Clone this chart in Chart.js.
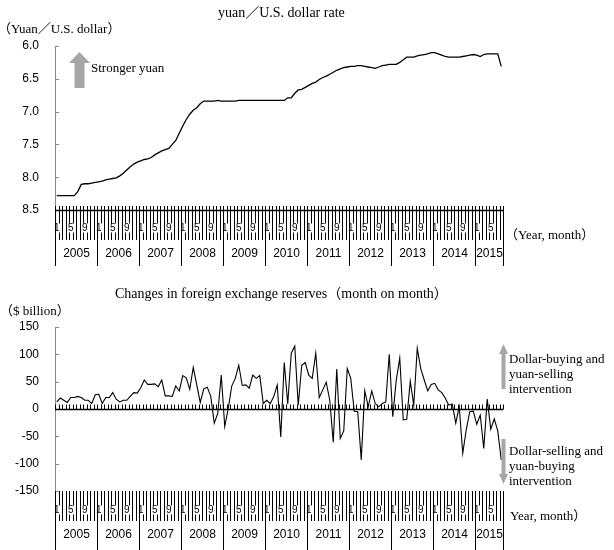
<!DOCTYPE html>
<html>
<head>
<meta charset="utf-8">
<script src="https://cdn.jsdelivr.net/npm/chart.js@4.4.1/dist/chart.umd.min.js"></script>
<style>
  html, body { margin: 0; padding: 0; background: #fff; }
  #wrap { position: relative; width: 614px; height: 550px; overflow: hidden; }
  .box { position: absolute; left: 0; width: 614px; }
  .txt { position: absolute; font-family: "Liberation Serif", "Noto Sans CJK JP", serif; font-size: 13px; color: #000; white-space: nowrap; line-height: 15px; }
</style>
</head>
<body>
<div id="wrap">
  <div class="box" style="top:0;height:270px"><canvas id="rateChart"></canvas></div>
  <div class="box" style="top:270px;height:280px"><canvas id="reserveChart"></canvas></div>

  <div class="txt" style="left:218px;top:5px;font-size:14px">yuan／U.S. dollar rate</div>
  <div class="txt" style="left:-2px;top:21px">（Yuan／U.S. dollar）</div>
  <div class="txt" style="left:91px;top:60px">Stronger yuan</div>
  <div class="txt" style="left:505px;top:227px">（Year, month）</div>

  <div class="txt" style="left:115px;top:286px;font-size:14px">Changes in foreign exchange reserves（month on month）</div>
  <div class="txt" style="left:0px;top:303px">（$ billion）</div>
  <div class="txt" style="left:509px;top:351px">Dollar-buying and<br>yuan-selling<br>intervention</div>
  <div class="txt" style="left:509px;top:443px">Dollar-selling and<br>yuan-buying<br>intervention</div>
  <div class="txt" style="left:510px;top:508px">Year, month）</div>
</div>

<script>
// Anos e meses do eixo x (jan/2005 a ago/2015)
const years = ['2005', '2006', '2007', '2008', '2009', '2010', '2011', '2012', '2013', '2014', '2015'];
const lastMonth = 8;
const shownMonths = ['1', '5', '9'];

// Taxa yuan / dólar (média mensal)
const rateValues = [
  8.28, 8.28, 8.28, 8.28, 8.28, 8.28, 8.22, 8.11, 8.10, 8.10, 8.09, 8.08,
  8.07, 8.06, 8.04, 8.03, 8.02, 8.01, 7.98, 7.94, 7.89, 7.84, 7.80, 7.77,
  7.75, 7.73, 7.72, 7.70, 7.66, 7.63, 7.60, 7.58, 7.56, 7.50, 7.44, 7.33,
  7.22, 7.12, 7.04, 6.98, 6.94, 6.88, 6.84, 6.84, 6.84, 6.84, 6.83, 6.84,
  6.84, 6.84, 6.84, 6.84, 6.83, 6.83, 6.83, 6.83, 6.83, 6.83, 6.83, 6.83,
  6.83, 6.83, 6.83, 6.83, 6.83, 6.83, 6.79, 6.79, 6.72, 6.67, 6.66, 6.63,
  6.60, 6.57, 6.55, 6.51, 6.48, 6.46, 6.43, 6.40, 6.37, 6.35, 6.33, 6.32,
  6.31, 6.31, 6.30, 6.30, 6.31, 6.32, 6.33, 6.34, 6.32, 6.30, 6.29, 6.28,
  6.28, 6.28, 6.25, 6.21, 6.17, 6.17, 6.17, 6.15, 6.14, 6.13, 6.12, 6.10,
  6.10, 6.12, 6.14, 6.16, 6.17, 6.17, 6.17, 6.17, 6.16, 6.15, 6.14, 6.13,
  6.14, 6.16, 6.13, 6.12, 6.12, 6.12, 6.12, 6.31
];

// Variação mensal das reservas (US$ bilhões)
const reserveChanges = [
  13, 20, 16, 12, 21, 21, 23, 21, 16, 16, 10, 26,
  27, 10, 21, 21, 30, 18, 13, 16, 16, 23, 30, 29,
  39, 53, 45, 45, 46, 41, 53, 24, 24, 23, 42, 33,
  61, 57, 36, 76, 44, 12, 37, 40, 23, -26, -8, 62,
  -32, 1, 42, 56, 80, 43, 44, 38, 62, 56, 61, 10,
  16, 10, 23, 44, -51, 85, 9, 102, 115, 7, 80, 85,
  62, 56, 102, 21, 35, 49, 16, -61, 73, -54, -40, 74,
  56, -4, -5, -93, 33, 4, 33, 10, 4, 10, 13, 100,
  -14, 53, 93, -20, -19, 51, 7, 111, 74, 53, 33, 45,
  47, 35, 30, 20, 7, 9, -26, 4, -81, -38, -5, -4,
  -28, -11, -72, 18, -37, -18, -40, -93
];

// Categorias: "ano/mês"
const categories = [];
years.forEach((y, i) => {
  const n = i === years.length - 1 ? lastMonth : 12;
  for (let m = 1; m <= n; m++) categories.push(y + '/' + m);
});

// Plugin: marcas mensais, caixas dos anos, linha base e setas
const axisDecor = {
  id: 'axisDecor',
  afterDraw(chart, args, o) {
    const ctx = chart.ctx;
    const xs = chart.scales.x, ys = chart.scales.y;
    const area = chart.chartArea;
    const half = (xs.getPixelForValue(1) - xs.getPixelForValue(0)) / 2;
    const n = categories.length;
    const edge = i => i < n ? xs.getPixelForValue(i) - half : xs.getPixelForValue(n - 1) + half;
    ctx.save();

    // marcas internas do eixo y
    ctx.strokeStyle = '#888';
    ctx.lineWidth = 1;
    ys.ticks.forEach(t => {
      const py = Math.round(ys.getPixelForValue(t.value)) + 0.5;
      ctx.beginPath();
      ctx.moveTo(area.left, py);
      ctx.lineTo(area.left + 4, py);
      ctx.stroke();
    });

    // linha base
    const by = Math.round(ys.getPixelForValue(o.baseValue)) + 0.5;
    ctx.strokeStyle = '#000';
    ctx.lineWidth = 1.3;
    ctx.beginPath();
    ctx.moveTo(area.left, by);
    ctx.lineTo(edge(n), by);
    ctx.stroke();
    if (o.baseTicks) {
      ctx.lineWidth = 1;
      for (let i = 0; i <= n; i++) {
        const px = Math.round(edge(i)) + 0.5;
        ctx.beginPath();
        ctx.moveTo(px, by - 5);
        ctx.lineTo(px, by);
        ctx.stroke();
      }
    }

    // marcas mensais
    ctx.lineWidth = 1;
    for (let i = 0; i <= n; i++) {
      const px = Math.round(edge(i)) + 0.5;
      ctx.beginPath();
      ctx.moveTo(px, o.tickTop);
      ctx.lineTo(px, o.tickBottom);
      ctx.stroke();
    }

    // rótulos dos meses (com fundo branco, como no original)
    ctx.font = '10px "Liberation Sans", Arial, sans-serif';
    ctx.textAlign = 'center';
    ctx.textBaseline = 'middle';
    categories.forEach((c, i) => {
      const m = c.split('/')[1];
      if (!shownMonths.includes(m)) return;
      const px = xs.getPixelForValue(i);
      const w = ctx.measureText(m).width + 1;
      ctx.fillStyle = '#fff';
      ctx.fillRect(px - w / 2, o.monthY - 4.5, w, 9);
      ctx.fillStyle = '#000';
      ctx.fillText(m, px, o.monthY);
    });

    // caixas dos anos
    ctx.font = '12px "Liberation Sans", Arial, sans-serif';
    let start = 0;
    for (let i = 1; i <= n; i++) {
      if (i === n || categories[i].endsWith('/1')) {
        const x0 = Math.round(edge(start)) + 0.5, x1 = Math.round(edge(i)) + 0.5;
        ctx.beginPath();
        ctx.moveTo(x0, o.tickTop);
        ctx.lineTo(x0, o.sepBottom);
        ctx.moveTo(x1, o.tickTop);
        ctx.lineTo(x1, o.sepBottom);
        ctx.stroke();
        ctx.fillText(categories[start].split('/')[0], (x0 + x1) / 2, o.yearY);
        start = i;
      }
    }

    // setas cinzas
    ctx.fillStyle = '#a6a6a6';
    (o.arrows || []).forEach(a => {
      const d = a.tip < a.tail ? 1 : -1;
      ctx.beginPath();
      ctx.moveTo(a.x, a.tip);
      ctx.lineTo(a.x + a.head, a.tip + d * a.headLen);
      ctx.lineTo(a.x + a.shaft, a.tip + d * a.headLen);
      ctx.lineTo(a.x + a.shaft, a.tail);
      ctx.lineTo(a.x - a.shaft, a.tail);
      ctx.lineTo(a.x - a.shaft, a.tip + d * a.headLen);
      ctx.lineTo(a.x - a.head, a.tip + d * a.headLen);
      ctx.closePath();
      ctx.fill();
    });
    ctx.restore();
  }
};

function yAxis(min, max, step, reverse, digits) {
  return {
    type: 'linear',
    min: min,
    max: max,
    reverse: reverse,
    grid: { display: false, drawTicks: false, tickLength: 0 },
    border: { display: true, color: '#888', width: 1 },
    ticks: {
      stepSize: step,
      padding: 16,
      color: '#000',
      font: { family: '"Liberation Sans", Arial, sans-serif', size: 12 },
      callback: v => v.toFixed(digits)
    },
    afterFit: s => { s.width = 55; }
  };
}

const xAxis = { type: 'category', offset: true, display: false };

// Gráfico da taxa de câmbio
new Chart(document.getElementById('rateChart'), {
  type: 'line',
  data: {
    labels: categories,
    datasets: [{ data: rateValues, borderColor: '#000', borderWidth: 1.3, pointRadius: 0, tension: 0, fill: false }]
  },
  options: {
    responsive: true,
    maintainAspectRatio: false,
    animation: false,
    layout: { padding: { top: 46, right: 111, bottom: 60, left: 0 } },
    plugins: {
      legend: { display: false },
      tooltip: { enabled: false },
      axisDecor: {
        baseValue: 8.5, baseTicks: false,
        tickTop: 206, tickBottom: 240, monthY: 228, yearY: 254, sepBottom: 266,
        arrows: [{ x: 79.5, tip: 52, tail: 88, head: 10.5, headLen: 11, shaft: 5 }]
      }
    },
    scales: { x: xAxis, y: yAxis(6, 8.5, 0.5, true, 1) }
  },
  plugins: [axisDecor]
});

// Gráfico das reservas
new Chart(document.getElementById('reserveChart'), {
  type: 'line',
  data: {
    labels: categories,
    datasets: [{ data: reserveChanges, borderColor: '#000', borderWidth: 1.1, pointRadius: 0, tension: 0, fill: false }]
  },
  options: {
    responsive: true,
    maintainAspectRatio: false,
    animation: false,
    layout: { padding: { top: 57, right: 111, bottom: 59, left: 0 } },
    plugins: {
      legend: { display: false },
      tooltip: { enabled: false },
      axisDecor: {
        baseValue: 0, baseTicks: true,
        tickTop: 221, tickBottom: 251, monthY: 240, yearY: 265, sepBottom: 280,
        arrows: [
          { x: 503.5, tip: 74, tail: 119, head: 4.5, headLen: 10, shaft: 2 },
          { x: 503.5, tip: 214, tail: 169, head: 4.5, headLen: 10, shaft: 2 }
        ]
      }
    },
    scales: { x: xAxis, y: yAxis(-150, 150, 50, false, 0) }
  },
  plugins: [axisDecor]
});
</script>
</body>
</html>
